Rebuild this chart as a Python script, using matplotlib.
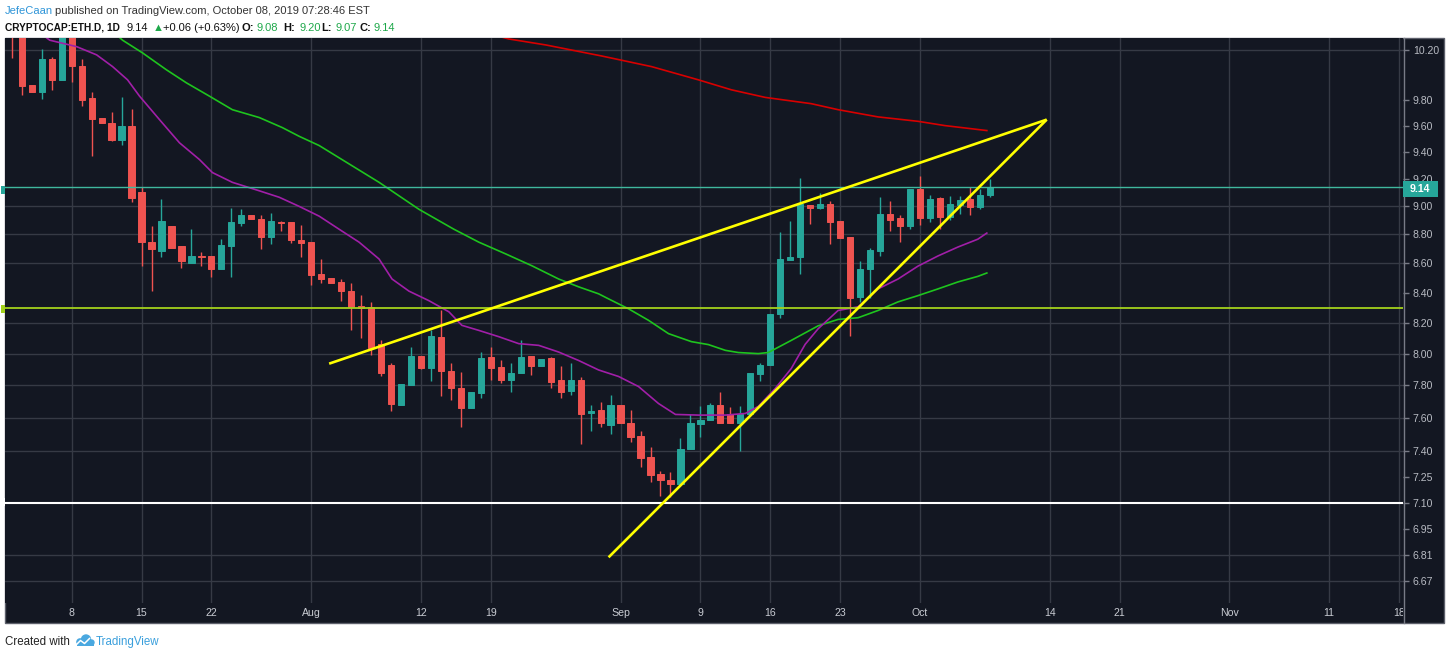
import matplotlib
matplotlib.use('Agg')
import matplotlib.pyplot as plt
from matplotlib.patches import Rectangle, Circle
from matplotlib.lines import Line2D
from matplotlib.transforms import IdentityTransform, Bbox, blended_transform_factory
from matplotlib.ticker import FixedLocator, FixedFormatter, NullLocator, NullFormatter
import numpy as np

# ---------------- data ----------------
# day offsets from 2019-07-01 (daily candles 2019-07-02 .. 2019-10-08)
days = list(range(1, 100))

opens = [10.42, 10.36, 9.92, 9.865, 10.125, 9.955, 10.36, 10.07, 9.818, 9.663,
         9.62, 9.494, 9.60, 9.104, 8.749, 8.686, 8.858, 8.719, 8.603, 8.65,
         8.65, 8.56, 8.72, 8.881, 8.936, 8.908, 8.783, 8.89, 8.89, 8.762,
         8.749, 8.527, 8.499, 8.474, 8.411, 8.31, 8.303, 8.06, 7.926, 7.68,
         7.80, 7.987, 7.911, 8.109, 7.892, 7.78, 7.66, 7.749, 7.98, 7.917,
         7.83, 7.874, 7.987, 7.924, 7.974, 7.83, 7.767, 7.836, 7.63, 7.65,
         7.554, 7.68, 7.566, 7.488, 7.364, 7.265, 7.23, 7.208, 7.41, 7.56,
         7.584, 7.68, 7.62, 7.566, 7.62, 7.868, 7.93, 8.259, 8.622, 8.645,
         9.008, 8.986, 9.015, 8.894, 8.781, 8.372, 8.56, 8.684, 8.943, 8.915,
         8.858, 9.124, 8.915, 9.058, 8.922, 9.008, 9.051, 8.994, 9.08]
highs = [10.50, 10.40, 9.92, 10.21, 10.145, 10.40, 10.40, 10.124, 9.86, 9.663,
         9.708, 9.826, 9.732, 9.138, 8.86, 9.051, 8.858, 8.719, 8.837, 8.68,
         8.65, 8.767, 8.991, 8.979, 8.936, 8.94, 8.95, 8.895, 8.89, 8.87,
         8.749, 8.629, 8.499, 8.49, 8.465, 8.385, 8.34, 8.09, 7.94, 7.81,
         8.045, 7.987, 8.15, 8.285, 7.94, 7.885, 7.755, 8.013, 8.045, 7.96,
         7.942, 8.09, 7.987, 7.968, 7.98, 7.924, 7.942, 7.85, 7.675, 7.695,
         7.74, 7.68, 7.65, 7.518, 7.423, 7.283, 7.277, 7.476, 7.62, 7.669,
         7.693, 7.755, 7.663, 7.669, 7.874, 7.942, 8.259, 8.818, 8.896, 9.204,
         9.008, 9.095, 9.037, 8.894, 8.785, 8.615, 8.705, 9.066, 9.037, 8.936,
         9.124, 9.219, 9.08, 9.066, 9.073, 9.073, 9.138, 9.124, 9.20]
lows = [10.135, 9.835, 9.865, 9.81, 9.88, 9.955, 9.945, 9.755, 9.37, 9.62,
        9.481, 9.456, 9.031, 8.584, 8.413, 8.645, 8.707, 8.565, 8.60, 8.584,
        8.506, 8.56, 8.504, 8.86, 8.908, 8.698, 8.73, 8.825, 8.74, 8.645,
        8.45, 8.465, 8.465, 8.347, 8.15, 8.10, 7.994, 7.855, 7.64, 7.68,
        7.80, 7.899, 7.825, 7.732, 7.711, 7.542, 7.66, 7.718, 7.836, 7.817,
        7.755, 7.874, 7.867, 7.924, 7.78, 7.724, 7.742, 7.44, 7.518, 7.545,
        7.50, 7.566, 7.452, 7.306, 7.219, 7.139, 7.134, 7.208, 7.41, 7.482,
        7.584, 7.566, 7.566, 7.40, 7.62, 7.825, 7.93, 8.233, 8.62, 8.526,
        8.872, 8.98, 8.733, 8.774, 8.115, 8.337, 8.365, 8.65, 8.823, 8.745,
        8.837, 8.865, 8.887, 8.837, 8.90, 8.943, 8.936, 8.979, 9.07]
closes = [10.36, 9.91, 9.865, 10.125, 9.959, 10.36, 10.073, 9.80, 9.655, 9.62,
          9.494, 9.60, 9.058, 8.749, 8.698, 8.894, 8.707, 8.613, 8.65, 8.64,
          8.56, 8.726, 8.889, 8.936, 8.908, 8.783, 8.894, 8.88, 8.762, 8.74,
          8.52, 8.492, 8.465, 8.411, 8.303, 8.30, 8.038, 7.88, 7.687, 7.81,
          7.987, 7.91, 8.115, 7.892, 7.782, 7.66, 7.755, 7.974, 7.91, 7.83,
          7.874, 7.98, 7.924, 7.968, 7.823, 7.761, 7.836, 7.62, 7.64, 7.57,
          7.68, 7.566, 7.482, 7.358, 7.259, 7.23, 7.208, 7.411, 7.566, 7.584,
          7.68, 7.566, 7.566, 7.62, 7.874, 7.93, 8.259, 8.629, 8.645, 9.015,
          8.986, 9.015, 8.889, 8.774, 8.365, 8.56, 8.691, 8.943, 8.90, 8.858,
          9.124, 8.915, 9.051, 8.922, 9.015, 9.044, 8.994, 9.08, 9.14]

# moving averages (day offset, value)
ma_purple_x = [4, 4.8, 7.5, 9.5, 11.1, 12.6, 13.8, 15.8, 17.8, 19.8, 21.1, 23.1, 25.8, 27.8,
               29.8, 31.8, 33.8, 35.8, 37.8, 39.1, 40.8, 42.8, 44.8, 46.1, 47.8, 49.8, 51.8,
               53.8, 55.8, 57.8, 59.8, 61.8, 63.8, 65.8, 67.5, 69.8, 72.5, 74.5, 75.8, 77.5,
               79.1, 80.5, 81.8, 83.8, 85.8, 87.8, 89.8, 91.8, 93.8, 95.8, 97.8, 98.7]
ma_purple_y = [10.33, 10.28, 10.227, 10.16, 10.065, 9.959, 9.83, 9.647, 9.47, 9.344, 9.247,
               9.175, 9.113, 9.066, 9.0, 8.93, 8.837, 8.746, 8.629, 8.492, 8.41, 8.346, 8.272,
               8.183, 8.15, 8.109, 8.064, 8.053, 8.01, 7.956, 7.896, 7.855, 7.792, 7.687, 7.62,
               7.616, 7.616, 7.626, 7.669, 7.78, 7.905, 8.06, 8.161, 8.281, 8.305, 8.425,
               8.492, 8.58, 8.65, 8.712, 8.767, 8.81]
ma_green_x = [11, 12.1, 14.1, 16.5, 18.5, 20.8, 23.1, 25.8, 28.1, 29.8, 31.8, 37.8, 41.8,
              45.3, 47.8, 50.5, 53.1, 55.8, 57.8, 59.8, 60.8, 62.8, 64.8, 66.8, 69.1, 70.8,
              72.5, 73.8, 75.8, 76.8, 79.1, 81.8, 83.8, 85.8, 87.8, 89.8, 91.8, 93.8, 95.8,
              97.8, 98.7]
ma_green_y = [10.36, 10.28, 10.176, 10.039, 9.935, 9.83, 9.724, 9.663, 9.586, 9.519, 9.449,
              9.175, 8.979, 8.837, 8.746, 8.664, 8.583, 8.492, 8.439, 8.392, 8.358, 8.292,
              8.216, 8.129, 8.077, 8.058, 8.021, 8.007, 8.0, 8.007, 8.085, 8.18, 8.222,
              8.233, 8.281, 8.338, 8.38, 8.425, 8.472, 8.51, 8.533]
ma_red_x = [49, 50.8, 54.5, 60.1, 65.1, 69.8, 73.1, 76.5, 81.1, 83.8, 87.8, 91.8, 94.5, 98.7]
ma_red_y = [10.33, 10.29, 10.241, 10.151, 10.065, 9.959, 9.88, 9.82, 9.771, 9.724, 9.668,
            9.634, 9.601, 9.563]

# drawn trend lines (day offset, price)
trend_upper_x = [32.8, 104.7]
trend_upper_y = [7.936, 9.647]
trend_lower_x = [60.8, 104.7]
trend_lower_y = [6.797, 9.647]

# horizontal levels
level_values = [9.14, 8.30, 7.10]
level_colors = ['#3fb89e', '#a4d21c', '#ffffff']
level_widths = [1.0, 1.3, 1.5]

# axis ticks
price_ticks = [10.20, 9.80, 9.60, 9.40, 9.20, 9.00, 8.80, 8.60, 8.40, 8.20, 8.00,
               7.80, 7.60, 7.40, 7.25, 7.10, 6.95, 6.81, 6.67]
price_labels = ['10.20', '9.80', '9.60', '9.40', '9.20', '9.00', '8.80', '8.60', '8.40',
                '8.20', '8.00', '7.80', '7.60', '7.40', '7.25', '7.10', '6.95', '6.81', '6.67']
grid_prices = [10.20, 9.00, 8.80, 8.60, 8.20, 8.00, 7.80, 7.60, 7.40, 6.81, 6.67]
time_tick_days = [7, 14, 21, 31, 42, 49, 62, 70, 77, 84, 92, 105, 112, 123, 133, 140]
time_tick_labels = ['8', '15', '22', 'Aug', '12', '19', 'Sep', '9', '16', '23', 'Oct',
                    '14', '21', 'Nov', '11', '18']

# ---------------- style ----------------
W, H = 1450, 657
PX = IdentityTransform()
FONT = ['Liberation Sans', 'DejaVu Sans']
BG = '#131722'
GRID = '#363a45'
UP, DOWN = '#26a69a', '#ef5350'
AXIS_TXT = '#b8bbc3'


def P(x, y):
    return (x, H - y)


fig = plt.figure(figsize=(W / 100, H / 100), dpi=100)
fig.patch.set_facecolor('white')

# dark panel
fig.add_artist(Rectangle(P(5, 623), 1439, 585, transform=PX, facecolor=BG,
                         edgecolor='#5d606b', lw=1, zorder=-1))

ax = fig.add_axes([5 / W, (H - 603) / H, 1398 / W, 565 / H])
ax.set_facecolor(BG)
for s in ax.spines.values():
    s.set_visible(False)
ax.set_yscale('log')
ax.set_xlim(0.32, 140.4)
ax.set_ylim(6.553, 10.298)

ax.yaxis.tick_right()
ax.yaxis.set_major_locator(FixedLocator(price_ticks))
ax.yaxis.set_major_formatter(FixedFormatter(price_labels))
ax.yaxis.set_minor_locator(NullLocator())
ax.yaxis.set_minor_formatter(NullFormatter())
ax.tick_params(axis='y', which='major', right=True, left=False, length=4, width=1,
               color='#787b86', labelcolor=AXIS_TXT, labelsize=7.6, pad=3)
for lab in ax.get_yticklabels():
    lab.set_family(FONT)
ax.set_xticks([])

for v in grid_prices:
    ax.axhline(v, color=GRID, lw=1, zorder=1)
for d in time_tick_days:
    ax.axvline(d, color=GRID, lw=1, zorder=1)

# candles
cols = [UP if c >= o else DOWN for o, c in zip(opens, closes)]
ax.vlines(days, lows, highs, colors=cols, lw=1, zorder=3)
bottoms = [min(o, c) for o, c in zip(opens, closes)]
heights = [abs(c - o) for o, c in zip(opens, closes)]
ax.bar(days, heights, bottom=bottoms, width=0.62, color=cols, edgecolor=cols,
       linewidth=0.7, zorder=3.1)

# moving averages
ax.plot(ma_red_x, ma_red_y, color='#d80000', lw=1.2, zorder=4)
ax.plot(ma_green_x, ma_green_y, color='#1ec41e', lw=1.2, zorder=4)
ax.plot(ma_purple_x, ma_purple_y, color='#a11fa8', lw=1.2, zorder=4)

# horizontal levels
for v, c, w in zip(level_values, level_colors, level_widths):
    ax.axhline(v, color=c, lw=w, zorder=4.5)

# trend lines
ax.plot(trend_upper_x, trend_upper_y, color='#ffff00', lw=1.9, zorder=5,
        solid_capstyle='butt')
ax.plot(trend_lower_x, trend_lower_y, color='#ffff00', lw=1.9, zorder=5,
        solid_capstyle='butt')

# price axis separator
fig.add_artist(Line2D([1403.5, 1403.5], [H - 38, H - 623], transform=PX,
                      color='#787b86', lw=1, zorder=3))

# last price tag
fig.add_artist(Rectangle(P(1403, 196.5), 34.5, 15.5, transform=PX,
                         facecolor='#26a69a', edgecolor='none', zorder=6))
fig.text(1410 / W, (H - 189) / H, '9.14', color='white', fontsize=7.6,
         family=FONT, fontweight='bold', ha='left', va='center', zorder=7)

# left-edge level tags
for yy, c in [(190, '#26a69a'), (309, '#a4d21c'), (502, '#ffffff')]:
    fig.add_artist(Rectangle(P(1, yy + 4), 4, 8, transform=PX, facecolor=c,
                             edgecolor='none', zorder=6))

# time axis labels (clipped by the price axis)
clip = Bbox.from_extents(5, 0, 1403, H)
btrans = blended_transform_factory(ax.transData, fig.transFigure)
for d, s in zip(time_tick_days, time_tick_labels):
    t = fig.text(d, (H - 613) / H, s, transform=btrans, color='#c9ccd3', fontsize=7.6,
                 family=FONT, ha='center', va='center', zorder=6)
    t.set_clip_on(True)
    t.set_clip_box(clip)

# header
HS = 8.0
blue = '#2f95d8'
green = '#1ea84a'
fig.text(5 / W, (H - 14.5) / H, 'JefeCaan', color=blue, fontsize=HS, family=FONT,
         va='baseline', ha='left')
fig.text(55 / W, (H - 14.5) / H,
         'published on TradingView.com, October 08, 2019 07:28:46 EST',
         color='#333333', fontsize=HS, family=FONT, va='baseline', ha='left')
line2 = [(5, 'CRYPTOCAP:ETH.D, 1D', '#111111', 'bold', 7.3),
         (126.5, '9.14', '#111111', 'normal', HS),
         (152.5, '\u25B2', green, 'normal', HS),
         (163, '+0.06 (+0.63%)', '#111111', 'normal', HS),
         (241.5, 'O:', '#111111', 'bold', HS),
         (256.5, '9.08', green, 'normal', HS),
         (283, 'H:', '#111111', 'bold', HS),
         (299.5, '9.20', green, 'normal', HS),
         (321.5, 'L:', '#111111', 'bold', HS),
         (335, '9.07', green, 'normal', HS),
         (360, 'C:', '#111111', 'bold', HS),
         (373, '9.14', green, 'normal', HS)]
for x, s, c, w, fs in line2:
    fig.text(x / W, (H - 31) / H, s, color=c, fontsize=fs, family=FONT,
             fontweight=w, va='baseline', ha='left')

# footer
fig.text(5 / W, (H - 645) / H, 'Created with', color='#222222', fontsize=8.3,
         family=FONT, va='baseline', ha='left')
logo_blue = '#4aa8e0'
for cx, cy, r in [(80, 642, 3.8), (86, 639.5, 5.2), (91.5, 642.5, 3.2)]:
    fig.add_artist(Circle(P(cx, cy), r, transform=PX, facecolor=logo_blue,
                          edgecolor='none', zorder=5))
fig.add_artist(Rectangle(P(77, 646), 17, 4, transform=PX, facecolor=logo_blue,
                         edgecolor='none', zorder=5))
fig.add_artist(Line2D([P(76, 645)[0], P(80.5, 640.5)[0], P(84.5, 643.5)[0], P(89.5, 638.5)[0]],
                      [P(76, 645)[1], P(80.5, 640.5)[1], P(84.5, 643.5)[1], P(89.5, 638.5)[1]],
                      transform=PX, color='white', lw=1.1, zorder=6))
fig.text(95.5 / W, (H - 645) / H, 'TradingView', color='#3a9fdc', fontsize=8.3,
         family=FONT, va='baseline', ha='left')

fig.savefig('out.png', dpi=100, facecolor='white')
